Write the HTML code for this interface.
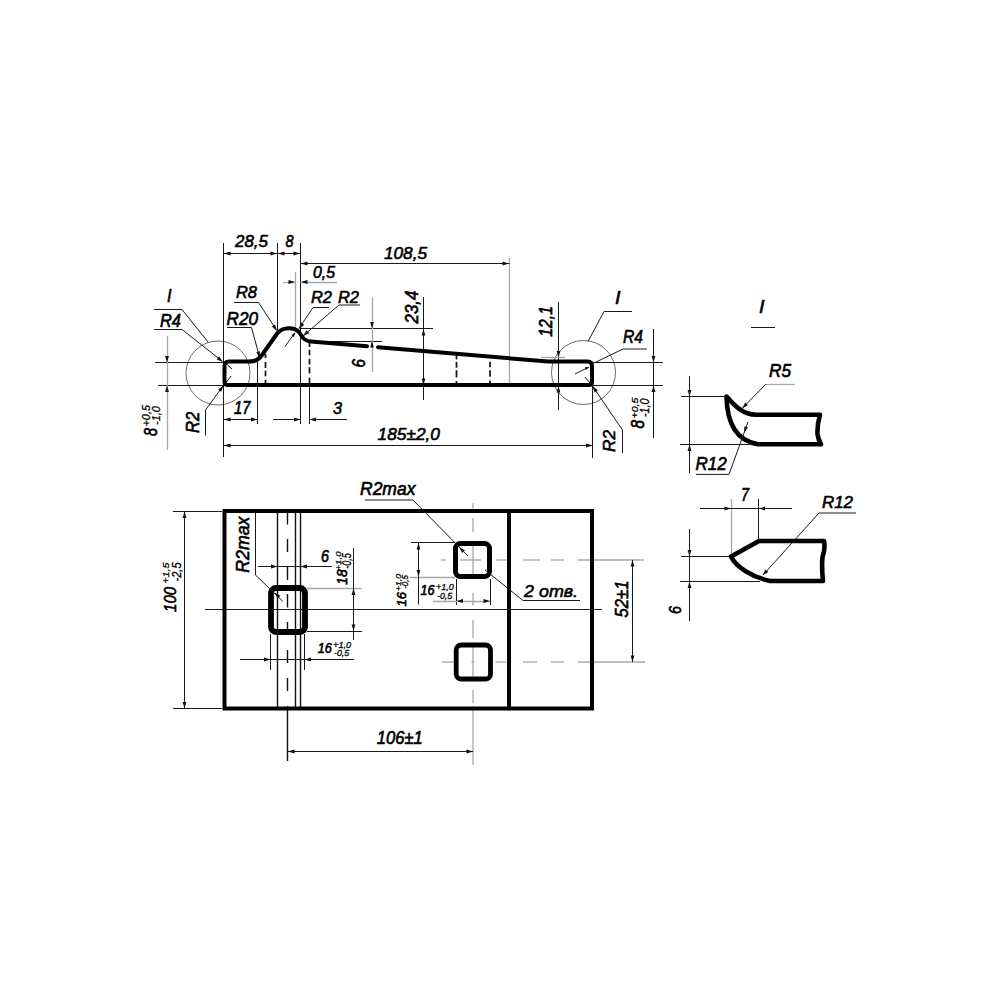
<!DOCTYPE html>
<html><head><meta charset="utf-8"><style>
html,body{margin:0;padding:0;background:#fff;}
svg{position:absolute;left:0;top:0;display:block}
.k{fill:none;stroke:#000;stroke-width:4;stroke-linejoin:round;stroke-linecap:round}
.kd{fill:none;stroke:#000;stroke-width:4.6;stroke-linejoin:round;stroke-linecap:round}
.t{fill:none;stroke:#1a1a1a;stroke-width:1}
.tm{fill:none;stroke:#111;stroke-width:1.4}
.g{fill:none;stroke:#a8a8a8;stroke-width:1.3}
.c{fill:none;stroke:#444;stroke-width:0.8}
text{font-family:"Liberation Sans",sans-serif;font-style:italic;font-size:100px;fill:#000}
</style></head><body>
<svg width="1000" height="1000" viewBox="0 0 1000 1000">
<circle class="c" cx="218" cy="373" r="32"/>
<circle class="c" cx="583.5" cy="372.5" r="32"/>
<line class="t" x1="223.5" y1="243" x2="223.5" y2="457"/>
<line class="t" x1="277.5" y1="243" x2="277.5" y2="331"/>
<line class="t" x1="300.5" y1="243" x2="300.5" y2="424"/>
<line class="g" x1="295.5" y1="272" x2="295.5" y2="327"/>
<line class="t" x1="257.5" y1="362" x2="257.5" y2="424"/>
<line class="t" x1="309.5" y1="386" x2="309.5" y2="424"/>
<line class="g" x1="509.5" y1="258" x2="509.5" y2="384"/>
<line class="t" x1="265.5" y1="354" x2="265.5" y2="358" style="stroke-width:1.8"/>
<line class="t" x1="265.5" y1="362" x2="265.5" y2="368" style="stroke-width:1.8"/>
<line class="t" x1="265.5" y1="370.7" x2="265.5" y2="376.3" style="stroke-width:1.8"/>
<line class="t" x1="265.5" y1="379.8" x2="265.5" y2="384" style="stroke-width:1.8"/>
<line class="t" x1="309.5" y1="342" x2="309.5" y2="347" style="stroke-width:1.8"/>
<line class="t" x1="309.5" y1="349.7" x2="309.5" y2="355.3" style="stroke-width:1.8"/>
<line class="t" x1="309.5" y1="358.8" x2="309.5" y2="364.4" style="stroke-width:1.8"/>
<line class="t" x1="309.5" y1="367.2" x2="309.5" y2="373.5" style="stroke-width:1.8"/>
<line class="t" x1="309.5" y1="377.7" x2="309.5" y2="384" style="stroke-width:1.8"/>
<line class="t" x1="456.5" y1="356" x2="456.5" y2="359.4" style="stroke-width:1.8"/>
<line class="t" x1="456.5" y1="361.8" x2="456.5" y2="367.8" style="stroke-width:1.8"/>
<line class="t" x1="456.5" y1="370.2" x2="456.5" y2="377.4" style="stroke-width:1.8"/>
<line class="t" x1="456.5" y1="381" x2="456.5" y2="384" style="stroke-width:1.8"/>
<line class="t" x1="490" y1="361.8" x2="490" y2="367.2" style="stroke-width:1.8"/>
<line class="t" x1="490" y1="370.2" x2="490" y2="376.8" style="stroke-width:1.8"/>
<line class="t" x1="490" y1="380.4" x2="490" y2="384" style="stroke-width:1.8"/>
<line class="t" x1="223.5" y1="253.5" x2="300.5" y2="253.5"/>
<polygon fill="#111" points="224,253.5 230.5,251.6 230.5,255.4"/>
<polygon fill="#111" points="277,253.5 270.5,255.4 270.5,251.6"/>
<polygon fill="#111" points="278,253.5 284.5,251.6 284.5,255.4"/>
<polygon fill="#111" points="300,253.5 293.5,255.4 293.5,251.6"/>
<line class="t" x1="300.5" y1="263.5" x2="509.5" y2="263.5"/>
<polygon fill="#111" points="301,263.5 307.5,261.6 307.5,265.4"/>
<polygon fill="#111" points="509,263.5 502.5,265.4 502.5,261.6"/>
<line class="g" x1="283" y1="282.5" x2="295" y2="282.5"/>
<polygon fill="#111" points="295,282 288.5,283.9 288.5,280.1"/>
<line class="g" x1="300.5" y1="282.5" x2="337" y2="282.5"/>
<polygon fill="#111" points="301,282 307.5,280.1 307.5,283.9"/>
<line class="t" x1="300" y1="328.5" x2="433" y2="328.5"/>
<line class="t" x1="320" y1="341.5" x2="382" y2="341.5"/>
<line class="g" x1="372.5" y1="297" x2="372.5" y2="372"/>
<polygon fill="#111" points="372,328.5 370.1,322 373.9,322"/>
<polygon fill="#111" points="372,341 373.9,347.5 370.1,347.5"/>
<line class="t" x1="423.5" y1="297" x2="423.5" y2="400"/>
<polygon fill="#111" points="423.5,329 425.4,335.5 421.6,335.5"/>
<polygon fill="#111" points="423.5,385 421.6,378.5 425.4,378.5"/>
<line class="t" x1="558.5" y1="302" x2="558.5" y2="410"/>
<line class="g" x1="541" y1="357.5" x2="565" y2="357.5"/>
<polygon fill="#111" points="558.5,357.5 556.6,351 560.4,351"/>
<polygon fill="#111" points="558.5,386 560.4,392.5 556.6,392.5"/>
<line class="t" x1="155" y1="362.5" x2="224" y2="362.5"/>
<line class="t" x1="158" y1="385.5" x2="224" y2="385.5"/>
<line class="g" x1="167.5" y1="336" x2="167.5" y2="450"/>
<polygon fill="#111" points="167,362.5 165.1,356 168.9,356"/>
<polygon fill="#111" points="167,385.5 168.9,392 165.1,392"/>
<polyline class="t" points="154,309.5 182,309.5 208,342"/>
<polyline class="t" points="154,329.5 182,329.5 222,361"/>
<polygon fill="#111" points="223,362 216.72,359.46 219.08,356.48"/>
<polyline class="t" points="223,386 205.5,410 205.5,435.5"/>
<polygon fill="#111" points="223.5,385.5 221.2,391.87 218.13,389.63"/>
<line class="t" x1="232" y1="369" x2="226.5" y2="364"/>
<line class="t" x1="231" y1="376" x2="226.5" y2="382"/>
<line class="t" x1="224" y1="419.5" x2="257.5" y2="419.5"/>
<polygon fill="#111" points="224,419.5 230.5,417.6 230.5,421.4"/>
<polygon fill="#111" points="257.5,419.5 251,421.4 251,417.6"/>
<line class="t" x1="273" y1="419.5" x2="300.5" y2="419.5"/>
<polygon fill="#111" points="300.5,419.5 294,421.4 294,417.6"/>
<line class="t" x1="309.5" y1="419.5" x2="347" y2="419.5"/>
<polygon fill="#111" points="309.5,419.5 316,417.6 316,421.4"/>
<line class="t" x1="224" y1="445.5" x2="592.5" y2="445.5"/>
<polygon fill="#111" points="224,445.5 230.5,443.6 230.5,447.4"/>
<polygon fill="#111" points="592.5,445.5 586,447.4 586,443.6"/>
<polyline class="t" points="632,311.5 604,311.5 588,341.5"/>
<polyline class="t" points="647,349 623,349 594,363"/>
<line class="t" x1="593" y1="362.5" x2="663" y2="362.5"/>
<line class="t" x1="593" y1="385.5" x2="663" y2="385.5"/>
<line class="t" x1="653.5" y1="329" x2="653.5" y2="438"/>
<polygon fill="#111" points="653.5,362.5 651.6,356 655.4,356"/>
<polygon fill="#111" points="653.5,385.5 655.4,392 651.6,392"/>
<line class="t" x1="592.5" y1="386" x2="592.5" y2="458"/>
<polyline class="t" points="592.5,386 622.5,430 622.5,453"/>
<polygon fill="#111" points="592.5,386 597.73,390.31 594.58,392.44"/>
<line class="t" x1="575" y1="374" x2="588" y2="367.5"/>
<polygon fill="#111" points="589.5,366.7 586.15,370.05 584.8,367.37"/>
<line class="t" x1="585" y1="377" x2="590" y2="383"/>
<polyline class="t" points="234,302.5 258.5,302.5 276.5,330"/>
<polygon fill="#111" points="277,331 271.86,326.59 275.05,324.51"/>
<polyline class="t" points="227,327.5 251.5,327.5 259.5,357"/>
<polygon fill="#111" points="259.8,358 256.27,352.22 259.94,351.23"/>
<polyline class="t" points="329,307.5 313,307.5 299,328.5"/>
<polygon fill="#111" points="299,329 301.04,322.54 304.2,324.66"/>
<polyline class="t" points="360,305 339,305 303,336"/>
<polygon fill="#111" points="303,336 306.69,330.32 309.17,333.2"/>
<line class="t" x1="285" y1="346.5" x2="294" y2="334"/>
<polygon fill="#111" points="295.5,332 294.01,337.03 291.37,335.23"/>
<path class="k" d="M 250 361.5 L 229 361.5 Q 224.5 361.5 224.5 366 L 224.5 381.5 Q 224.5 385 228 385 L 589 385 Q 592 385 592 382 L 592 366 Q 592 361.5 587.5 361.5 L 548 361.5 L 378 347.2"/>
<path class="k" d="M 367 346.2 L 311 341.5 Q 305 341 302 336.5 L 299 332 C 294 326.8 283 326.8 277.5 333 L 262 355 Q 257.6 361.5 250 361.5"/>
<text transform="translate(235.1,247) scale(0.1688,0.1719)" font-weight="normal" style="stroke:#000;stroke-width:3.64;stroke-linejoin:round" >28,5</text>
<text transform="translate(285.5,247) scale(0.1439,0.1719)" font-weight="normal" style="stroke:#000;stroke-width:3.93;stroke-linejoin:round" >8</text>
<text transform="translate(384,259) scale(0.1717,0.1719)" font-weight="normal" style="stroke:#000;stroke-width:3.61;stroke-linejoin:round" >108,5</text>
<text transform="translate(313,278) scale(0.1579,0.1576)" font-weight="normal" style="stroke:#000;stroke-width:3.93;stroke-linejoin:round" >0,5</text>
<text transform="translate(236,298) scale(0.1643,0.1719)" font-weight="normal" style="stroke:#000;stroke-width:3.69;stroke-linejoin:round" >R8</text>
<text transform="translate(226.5,325) scale(0.1718,0.1791)" font-weight="normal" style="stroke:#000;stroke-width:3.53;stroke-linejoin:round" >R20</text>
<text transform="translate(311,303) scale(0.1643,0.1719)" font-weight="normal" style="stroke:#000;stroke-width:3.69;stroke-linejoin:round" >R2</text>
<text transform="translate(338,303) scale(0.1643,0.1719)" font-weight="normal" style="stroke:#000;stroke-width:3.69;stroke-linejoin:round" >R2</text>
<text transform="translate(167,302) scale(0.1619,0.1744)" font-weight="normal" style="stroke:#000;stroke-width:3.69;stroke-linejoin:round" >I</text>
<text transform="translate(160,327) scale(0.1643,0.1744)" font-weight="normal" style="stroke:#000;stroke-width:3.66;stroke-linejoin:round" >R4</text>
<text transform="translate(615,304) scale(0.1978,0.1744)" font-weight="normal" style="stroke:#000;stroke-width:3.33;stroke-linejoin:round" >I</text>
<text transform="translate(623,343) scale(0.1565,0.1744)" font-weight="normal" style="stroke:#000;stroke-width:3.75;stroke-linejoin:round" >R4</text>
<text transform="translate(234,414) scale(0.1487,0.1744)" font-weight="normal" style="stroke:#000;stroke-width:3.84;stroke-linejoin:round" >17</text>
<text transform="translate(333,414) scale(0.1619,0.1719)" font-weight="normal" style="stroke:#000;stroke-width:3.71;stroke-linejoin:round" >3</text>
<text transform="translate(377.6,440.4) scale(0.1730,0.1719)" font-weight="normal" style="stroke:#000;stroke-width:3.60;stroke-linejoin:round" >185±2,0</text>
<text transform="translate(418.47,323.4) rotate(-90) scale(0.1680,0.1901)" font-weight="normal" style="stroke:#000;stroke-width:3.46;stroke-linejoin:round" >23,4</text>
<text transform="translate(365,367.4) rotate(-90) scale(0.1508,0.1834)" font-weight="normal" style="stroke:#000;stroke-width:3.71;stroke-linejoin:round" >6</text>
<text transform="translate(552.06,336.7) rotate(-90) scale(0.1572,0.1828)" font-weight="normal" style="stroke:#000;stroke-width:3.65;stroke-linejoin:round" >12,1</text>
<text transform="translate(198.8,433) rotate(-90) scale(0.1674,0.1834)" font-weight="normal" style="stroke:#000;stroke-width:3.53;stroke-linejoin:round" >R2</text>
<text transform="translate(614.8,452) rotate(-90) scale(0.1721,0.1719)" font-weight="normal" style="stroke:#000;stroke-width:3.60;stroke-linejoin:round" >R2</text>
<text transform="translate(156.75,436) rotate(-90) scale(0.1439,0.1827)" font-weight="normal" style="stroke:#000;stroke-width:3.80;stroke-linejoin:round" >8</text>
<text transform="translate(150,426.5) rotate(-90) scale(0.1088,0.1003)" font-weight="normal" style="stroke:#000;stroke-width:2.87;stroke-linejoin:round" >+0,5</text>
<text transform="translate(160,425) rotate(-90) scale(0.1103,0.1146)" font-weight="normal" style="stroke:#000;stroke-width:2.67;stroke-linejoin:round" >-1,0</text>
<text transform="translate(643.75,428.5) rotate(-90) scale(0.1529,0.1791)" font-weight="normal" style="stroke:#000;stroke-width:3.74;stroke-linejoin:round" >8</text>
<text transform="translate(637.5,418.5) rotate(-90) scale(0.1062,0.0931)" font-weight="normal" style="stroke:#000;stroke-width:3.01;stroke-linejoin:round" >+0,5</text>
<text transform="translate(649,417) rotate(-90) scale(0.1074,0.1361)" font-weight="normal" style="stroke:#000;stroke-width:2.46;stroke-linejoin:round" >-1,0</text>
<line class="t" x1="205" y1="609.5" x2="602" y2="609.5"/>
<line class="tm" x1="277.5" y1="513" x2="277.5" y2="707"/>
<line class="tm" x1="295.5" y1="513" x2="295.5" y2="707"/>
<line class="tm" x1="300.5" y1="513" x2="300.5" y2="707"/>
<line class="tm" x1="287.5" y1="513" x2="287.5" y2="524.5" style=""/>
<line class="tm" x1="287.5" y1="539" x2="287.5" y2="552" style=""/>
<line class="tm" x1="287.5" y1="566" x2="287.5" y2="580" style=""/>
<line class="tm" x1="287.5" y1="594" x2="287.5" y2="607.5" style=""/>
<line class="tm" x1="287.5" y1="622" x2="287.5" y2="635" style=""/>
<line class="tm" x1="287.5" y1="650" x2="287.5" y2="663" style=""/>
<line class="tm" x1="287.5" y1="678" x2="287.5" y2="691" style=""/>
<line class="tm" x1="287.5" y1="706" x2="287.5" y2="761" style=""/>
<line class="g" x1="473" y1="503" x2="473" y2="508.5" style=""/>
<line class="g" x1="473" y1="518" x2="473" y2="532" style=""/>
<line class="g" x1="473" y1="545" x2="473" y2="574" style=""/>
<line class="g" x1="473" y1="593" x2="473" y2="605.5" style=""/>
<line class="g" x1="473" y1="620" x2="473" y2="638" style=""/>
<line class="g" x1="473" y1="647" x2="473" y2="676" style=""/>
<line class="g" x1="473" y1="690" x2="473" y2="703" style=""/>
<line class="g" x1="473" y1="710" x2="473" y2="765" style=""/>
<line class="g" x1="441" y1="560" x2="446" y2="560" style=""/>
<line class="g" x1="460" y1="560" x2="481" y2="560" style=""/>
<line class="g" x1="496" y1="560" x2="509" y2="560" style=""/>
<line class="g" x1="523" y1="560" x2="540" y2="560" style=""/>
<line class="g" x1="551" y1="560" x2="564" y2="560" style=""/>
<line class="g" x1="578" y1="560" x2="644" y2="560" style=""/>
<line class="g" x1="442" y1="662" x2="453.5" y2="662" style=""/>
<line class="g" x1="471.5" y1="662" x2="474.5" y2="662" style=""/>
<line class="g" x1="495.5" y1="662" x2="506.5" y2="662" style=""/>
<line class="g" x1="523" y1="662" x2="537" y2="662" style=""/>
<line class="g" x1="551" y1="662" x2="564" y2="662" style=""/>
<line class="g" x1="578" y1="662" x2="645" y2="662" style=""/>
<rect class="k" x="224.5" y="511" width="367.5" height="197.5" style="stroke-linejoin:miter"/>
<line class="k" x1="509" y1="511" x2="509" y2="708.5"/>
<rect class="k" x="271" y="588" width="34" height="44" rx="5" style="stroke-width:5.8"/>
<rect class="k" x="455.5" y="543.5" width="34" height="33" rx="5" style="stroke-width:5"/>
<rect class="k" x="456.2" y="645" width="34.3" height="34" rx="5" style="stroke-width:4.8"/>
<line class="t" x1="173" y1="511.5" x2="222" y2="511.5"/>
<line class="t" x1="173" y1="708.5" x2="222" y2="708.5"/>
<line class="t" x1="184.5" y1="512" x2="184.5" y2="708"/>
<polygon fill="#111" points="184.5,511.5 186.4,518 182.6,518"/>
<polygon fill="#111" points="184.5,708.5 182.6,702 186.4,702"/>
<text transform="translate(176,611.9) rotate(-90) scale(0.1505,0.1662)" font-weight="normal" style="stroke:#000;stroke-width:3.92;stroke-linejoin:round" >100</text>
<text transform="translate(168.9,583.8) rotate(-90) scale(0.1082,0.0988)" font-weight="normal" style="stroke:#000;stroke-width:2.90;stroke-linejoin:round" >+1,5</text>
<text transform="translate(180.5,581.5) rotate(-90) scale(0.1107,0.1289)" font-weight="normal" style="stroke:#000;stroke-width:2.50;stroke-linejoin:round" >-2,5</text>
<polyline class="t" points="255.5,513 255.5,575 283,601.5"/>
<polygon fill="#111" points="274.5,592.5 280.44,595.75 277.75,598.44"/>
<text transform="translate(248.9,572.7) rotate(-90) scale(0.1773,0.1848)" font-weight="normal" style="stroke:#000;stroke-width:3.42;stroke-linejoin:round" >R2max</text>
<line class="t" x1="258" y1="566.5" x2="332" y2="566.5"/>
<polygon fill="#111" points="277.5,566.5 271,568.4 271,564.6"/>
<polygon fill="#111" points="300.5,566.5 307,564.6 307,568.4"/>
<text transform="translate(321,562) scale(0.1436,0.1576)" font-weight="normal" style="stroke:#000;stroke-width:4.12;stroke-linejoin:round" >6</text>
<line class="g" x1="307" y1="588.5" x2="361.6" y2="588.5"/>
<line class="t" x1="307" y1="631.5" x2="362" y2="631.5"/>
<line class="t" x1="353.5" y1="548" x2="353.5" y2="640"/>
<polygon fill="#111" points="353.5,588.5 355.4,595 351.6,595"/>
<polygon fill="#111" points="353.5,631 351.6,624.5 355.4,624.5"/>
<text transform="translate(346.9,584.7) rotate(-90) scale(0.1376,0.1418)" font-weight="normal" style="stroke:#000;stroke-width:4.44;stroke-linejoin:round" >18</text>
<text transform="translate(341.2,570.6) rotate(-90) scale(0.0973,0.0774)" font-weight="normal" style="stroke:#000;stroke-width:3.44;stroke-linejoin:round" >+1,0</text>
<text transform="translate(350.8,568.8) rotate(-90) scale(0.0904,0.1203)" font-weight="normal" style="stroke:#000;stroke-width:2.85;stroke-linejoin:round" >-0,5</text>
<line class="t" x1="270.5" y1="634" x2="270.5" y2="670"/>
<line class="t" x1="304.5" y1="634" x2="304.5" y2="670"/>
<line class="t" x1="240" y1="659.5" x2="354" y2="659.5"/>
<polygon fill="#111" points="270.5,659.5 264,661.4 264,657.6"/>
<polygon fill="#111" points="304.5,659.5 311,657.6 311,661.4"/>
<text transform="translate(317.8,652.8) scale(0.1267,0.1418)" font-weight="normal" style="stroke:#000;stroke-width:4.62;stroke-linejoin:round" >16</text>
<text transform="translate(333.1,648) scale(0.0912,0.0860)" font-weight="normal" style="stroke:#000;stroke-width:3.39;stroke-linejoin:round" >+1,0</text>
<text transform="translate(334,655.8) scale(0.0886,0.0946)" font-weight="normal" style="stroke:#000;stroke-width:3.28;stroke-linejoin:round" >-0,5</text>
<text transform="translate(360,495) scale(0.1751,0.1862)" font-weight="normal" style="stroke:#000;stroke-width:3.43;stroke-linejoin:round" >R2max</text>
<polyline class="t" points="365,500 413,500 468,556"/>
<polygon fill="#111" points="459,547 464.94,550.25 462.25,552.94"/>
<line class="t" x1="411" y1="542.5" x2="455" y2="542.5"/>
<line class="g" x1="410" y1="577.5" x2="455" y2="577.5"/>
<line class="t" x1="418.5" y1="543" x2="418.5" y2="604.5"/>
<polygon fill="#111" points="418.5,543 420.4,549.5 416.6,549.5"/>
<polygon fill="#111" points="418.5,576.5 416.6,570 420.4,570"/>
<text transform="translate(405.8,606.4) rotate(-90) scale(0.1294,0.1318)" font-weight="normal" style="stroke:#000;stroke-width:4.75;stroke-linejoin:round" >16</text>
<text transform="translate(401,591) rotate(-90) scale(0.0861,0.0645)" font-weight="normal" style="stroke:#000;stroke-width:3.98;stroke-linejoin:round" >+1,0</text>
<text transform="translate(408.2,588.8) rotate(-90) scale(0.0800,0.0917)" font-weight="normal" style="stroke:#000;stroke-width:3.50;stroke-linejoin:round" >-0,5</text>
<line class="t" x1="456.5" y1="579" x2="456.5" y2="605"/>
<line class="t" x1="490.5" y1="579" x2="490.5" y2="605"/>
<line class="g" x1="433" y1="601.5" x2="490" y2="601.5"/>
<polygon fill="#111" points="456.5,601 463,599.1 463,602.9"/>
<polygon fill="#111" points="490,601 483.5,602.9 483.5,599.1"/>
<text transform="translate(420.5,594.75) scale(0.1258,0.1397)" font-weight="normal" style="stroke:#000;stroke-width:4.67;stroke-linejoin:round" >16</text>
<text transform="translate(436,590.25) scale(0.0899,0.0860)" font-weight="normal" style="stroke:#000;stroke-width:3.41;stroke-linejoin:round" >+1,0</text>
<text transform="translate(437,598.5) scale(0.0884,0.0860)" font-weight="normal" style="stroke:#000;stroke-width:3.44;stroke-linejoin:round" >-0,5</text>
<polyline class="t" points="580,600.5 523,600.5 485,570"/>
<text transform="translate(524.11,597) scale(0.1783,0.1719)" font-weight="normal" style="stroke:#000;stroke-width:3.54;stroke-linejoin:round" >2 отв.</text>
<line class="t" x1="632.5" y1="560" x2="632.5" y2="662"/>
<polygon fill="#111" points="632.5,560 634.4,566.5 630.6,566.5"/>
<polygon fill="#111" points="632.5,662 630.6,655.5 634.4,655.5"/>
<text transform="translate(628,617.4) rotate(-90) scale(0.1664,0.1862)" font-weight="normal" style="stroke:#000;stroke-width:3.52;stroke-linejoin:round" >52±1</text>
<line class="t" x1="288" y1="751.5" x2="473" y2="751.5"/>
<polygon fill="#111" points="288,751.5 294.5,749.6 294.5,753.4"/>
<polygon fill="#111" points="473,751.5 466.5,753.4 466.5,749.6"/>
<text transform="translate(376.8,744) scale(0.1659,0.1834)" font-weight="normal" style="stroke:#000;stroke-width:3.55;stroke-linejoin:round" >106±1</text>
<text transform="translate(759,313) scale(0.1978,0.1744)" font-weight="normal" style="stroke:#000;stroke-width:3.33;stroke-linejoin:round" >I</text>
<line class="t" x1="751" y1="327.5" x2="775" y2="327.5"/>
<path class="kd" d="M 756 414.8 L 820 414.8 Q 817 425 817.5 434 Q 818 439 821 444.3 L 758 444.3 C 738 441 727 425 726.5 396.5 C 735 406 743 414.8 756 414.8 Z"/>
<line class="t" x1="681" y1="396.5" x2="726" y2="396.5"/>
<line class="t" x1="680" y1="444.5" x2="752" y2="444.5"/>
<line class="t" x1="689.5" y1="376" x2="689.5" y2="473"/>
<polygon fill="#111" points="689.5,396.5 687.6,390 691.4,390"/>
<polygon fill="#111" points="689.5,444.5 691.4,451 687.6,451"/>
<text transform="translate(769,377) scale(0.1717,0.1744)" font-weight="normal" style="stroke:#000;stroke-width:3.58;stroke-linejoin:round" >R5</text>
<line class="g" x1="766" y1="384.5" x2="795" y2="384.5"/>
<line class="t" x1="766" y1="384" x2="743" y2="407.5"/>
<polygon fill="#111" points="742,408.5 745.25,402.56 747.94,405.25"/>
<text transform="translate(695.6,470) scale(0.1701,0.1834)" font-weight="normal" style="stroke:#000;stroke-width:3.51;stroke-linejoin:round" >R12</text>
<polyline class="t" points="696,474.4 729,474.4 748,422"/>
<polygon fill="#111" points="744,433 744.41,426.24 747.99,427.53"/>
<path class="kd" d="M 759 541 L 824 541 Q 825.5 549 822.5 557 Q 821.5 566 823 581 L 770 581 C 752 577 736 567 731 556.5 Z"/>
<line class="t" x1="681" y1="556.5" x2="729" y2="556.5"/>
<line class="t" x1="680" y1="581.5" x2="760" y2="581.5"/>
<line class="t" x1="689.5" y1="529" x2="689.5" y2="621"/>
<polygon fill="#111" points="689.5,556.5 687.6,550 691.4,550"/>
<polygon fill="#111" points="689.5,581.5 691.4,588 687.6,588"/>
<line class="g" x1="731.5" y1="499" x2="731.5" y2="553"/>
<line class="t" x1="758.5" y1="499" x2="758.5" y2="539"/>
<line class="t" x1="700" y1="508.5" x2="792" y2="508.5"/>
<polygon fill="#111" points="731,508.5 724.5,510.4 724.5,506.6"/>
<polygon fill="#111" points="758.5,508.5 765,506.6 765,510.4"/>
<text transform="translate(741,501) scale(0.1448,0.1744)" font-weight="normal" style="stroke:#000;stroke-width:3.88;stroke-linejoin:round" >7</text>
<text transform="translate(822,508) scale(0.1690,0.1719)" font-weight="normal" style="stroke:#000;stroke-width:3.64;stroke-linejoin:round" >R12</text>
<polyline class="t" points="856,513 819,513 763,575"/>
<polygon fill="#111" points="762.5,575.5 765.44,569.4 768.26,571.94"/>
<text transform="translate(681,614) rotate(-90) scale(0.1436,0.1719)" font-weight="normal" style="stroke:#000;stroke-width:3.93;stroke-linejoin:round" >6</text>
</svg></body></html>
